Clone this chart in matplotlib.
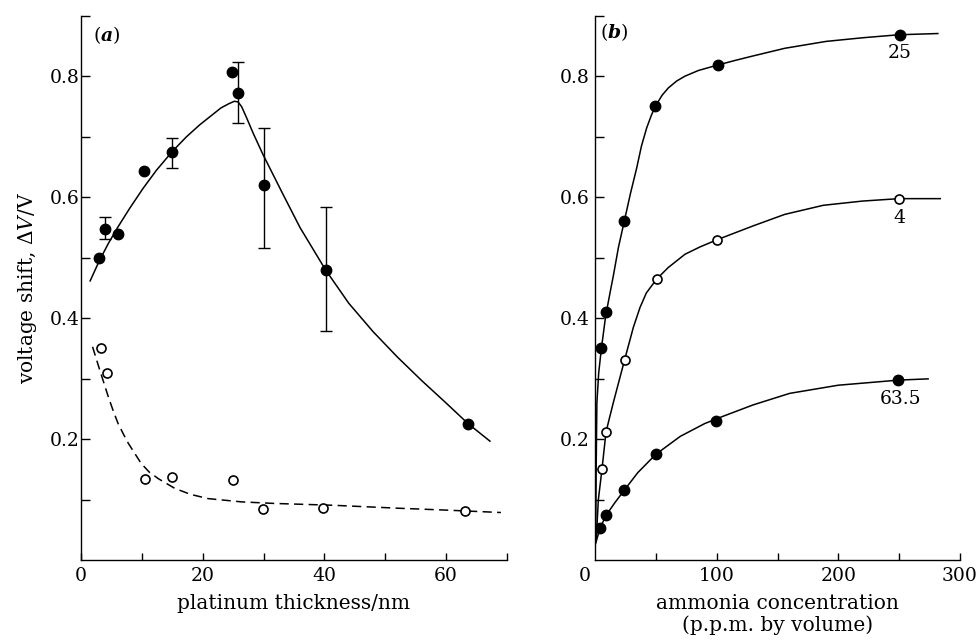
import numpy as np
import matplotlib
matplotlib.use("Agg")
import matplotlib.pyplot as plt

plt.rcParams['font.family'] = ['DejaVu Serif']
plt.rcParams['mathtext.fontset'] = 'custom'
plt.rcParams['mathtext.rm'] = 'DejaVu Serif'
plt.rcParams['mathtext.it'] = 'DejaVu Serif:italic'
plt.rcParams['mathtext.bf'] = 'DejaVu Serif:italic:bold'

# ---------------- Panel (a) data ----------------
thick_filled = [3, 4, 6, 10.4, 15, 24.8, 25.85, 30, 40.2, 63.6]
shift_filled = [0.50, 0.548, 0.539, 0.644, 0.675, 0.807, 0.773, 0.620, 0.480, 0.226]

err_x = [4, 15, 25.85, 30, 40.2]
err_y = [0.548, 0.675, 0.773, 0.620, 0.480]
err_lo = [0.531, 0.649, 0.723, 0.517, 0.379]
err_hi = [0.568, 0.699, 0.824, 0.714, 0.585]

thick_open = [3.3, 4.2, 10.5, 14.95, 25, 29.9, 39.7, 63.1]
shift_open = [0.351, 0.310, 0.134, 0.138, 0.132, 0.085, 0.087, 0.081]

fit_a_x = [1.5, 3, 4.5, 6, 8, 10.2, 12.4, 15, 17.3, 19.5, 21.5, 23, 24.3, 25.2, 25.8,
           26.4, 27.2, 28.3, 29.9, 33.2, 36, 40.2, 44, 48, 52, 56, 60, 63.6, 67.2]
fit_a_y = [0.462, 0.495, 0.524, 0.55, 0.582, 0.615, 0.645, 0.676, 0.700, 0.720, 0.736,
           0.748, 0.755, 0.759, 0.758, 0.750, 0.732, 0.706, 0.671, 0.605, 0.55, 0.48,
           0.425, 0.378, 0.336, 0.297, 0.26, 0.226, 0.197]

dash_a_x = [1.9, 3.1, 4.5, 5.3, 6.1, 7.0, 7.8, 9.9, 11.2, 12.7, 15.4, 18, 20.9, 26.4,
            31.8, 41.4, 52.4, 60, 69]
dash_a_y = [0.353, 0.314, 0.27, 0.247, 0.226, 0.208, 0.193, 0.16, 0.146, 0.135, 0.119,
            0.109, 0.102, 0.0966, 0.094, 0.091, 0.086, 0.083, 0.079]

# ---------------- Panel (b) data ----------------
conc_25 = [5, 9, 24, 49.2, 101, 251]
shift_25 = [0.351, 0.410, 0.561, 0.751, 0.819, 0.869]
conc_4 = [5.5, 8.8, 24.2, 50.5, 100.2, 250.3]
shift_4 = [0.1505, 0.212, 0.332, 0.465, 0.530, 0.598]
conc_63 = [4, 9.1, 23.9, 49.7, 99.1, 249.5]
shift_63 = [0.054, 0.075, 0.116, 0.175, 0.231, 0.298]

fit25_x = [0.3, 0.7, 1.3, 2.8, 5, 8, 9.1, 12, 15, 19, 23.9, 29, 34, 38, 42.3, 46,
           49.2, 55, 60.1, 67, 73.8, 85, 101, 115, 130, 156, 190, 220, 250, 282]
fit25_y = [0.03, 0.15, 0.26, 0.31, 0.35, 0.396, 0.41, 0.441, 0.472, 0.517, 0.561, 0.607,
           0.648, 0.685, 0.715, 0.735, 0.75, 0.769, 0.781, 0.7925, 0.8005, 0.810, 0.819,
           0.8265, 0.834, 0.8466, 0.858, 0.864, 0.869, 0.871]
fit4_x = [0.8, 2.5, 5.5, 8.8, 12, 15, 24.2, 31.3, 36.8, 42, 50.5, 60, 73.8, 86, 100.2,
          130, 156, 187.7, 220, 250, 284]
fit4_y = [0.035, 0.10, 0.1505, 0.212, 0.238, 0.262, 0.332, 0.385, 0.418, 0.442, 0.465,
          0.484, 0.506, 0.518, 0.530, 0.553, 0.572, 0.587, 0.594, 0.598, 0.598]
fit63_x = [0.3, 4, 9.1, 16, 23.9, 35, 49.7, 70, 90, 105, 130, 160, 200, 250, 274]
fit63_y = [0.028, 0.054, 0.075, 0.095, 0.116, 0.145, 0.175, 0.205, 0.226, 0.238, 0.257,
           0.276, 0.2895, 0.298, 0.300]

curve_labels = ["25", "4", "63.5"]
label_x = [251, 250, 251]
label_y = [0.839, 0.5665, 0.267]

FS = 13.5
fig = plt.figure(figsize=(9.76, 6.42), dpi=100)
axa = fig.add_axes([81/976, 81.7/642, 426/976, 544.3/642])
axb = fig.add_axes([595.3/976, 81.7/642, 364.4/976, 544.3/642])

for ax in (axa, axb):
    for s in ('top', 'right'):
        ax.spines[s].set_visible(False)
    for s in ('left', 'bottom'):
        ax.spines[s].set_linewidth(1.0)
    ax.set_ylim(0, 0.9)
    ax.set_yticks([0.2, 0.4, 0.6, 0.8])
    ax.set_yticklabels(["0.2", "0.4", "0.6", "0.8"])
    ax.set_yticks([0.1, 0.3, 0.5, 0.7, 0.9], minor=True)
    ax.tick_params(axis='both', which='both', direction='in', labelsize=FS, width=1.0)
    ax.tick_params(axis='y', which='both', length=6.5)
    ax.tick_params(axis='x', which='both', length=5, pad=5)

# Panel (a)
axa.set_xlim(0, 70)
axa.set_xticks([0, 20, 40, 60])
axa.set_xticks([10, 30, 50, 70], minor=True)
axa.tick_params(axis='y', which='both', pad=1)

axa.plot(fit_a_x, fit_a_y, color='black', lw=1.1)
axa.plot(dash_a_x, dash_a_y, color='black', lw=1.1, dashes=(6, 3.5))
yerr = [np.array(err_y) - np.array(err_lo), np.array(err_hi) - np.array(err_y)]
axa.errorbar(err_x, err_y, yerr=yerr, fmt='none', ecolor='black', elinewidth=1.0,
             capsize=4.5, capthick=1.0)
axa.plot(thick_filled, shift_filled, 'o', color='black', ms=7.5)
axa.plot(thick_open, shift_open, 'o', mfc='white', mec='black', ms=6.5, mew=1.2)
axa.set_xlabel("platinum thickness/nm", fontsize=14.5, labelpad=6)
axa.set_ylabel(r"voltage shift, $\Delta\mathit{V}$/V", fontsize=14.5, labelpad=8)
axa.text(0.028, 0.965, r"($\mathbf{a}$)", transform=axa.transAxes, fontsize=FS,
         va='center', ha='left')

# Panel (b)
axb.set_xlim(0, 300)
axb.set_xticks([100, 200, 300])
axb.set_xticks([50, 150, 250], minor=True)
axb.tick_params(axis='y', which='both', pad=4)
axb.annotate("0", xy=(0, 0), xycoords='axes fraction', xytext=(-7.6, -5),
             textcoords='offset points', ha='center', va='top', fontsize=FS)

axb.plot(fit25_x, fit25_y, color='black', lw=1.1)
axb.plot(fit4_x, fit4_y, color='black', lw=1.1)
axb.plot(fit63_x, fit63_y, color='black', lw=1.1)
axb.plot(conc_25, shift_25, 'o', color='black', ms=7.5)
axb.plot(conc_63, shift_63, 'o', color='black', ms=7.5)
axb.plot(conc_4, shift_4, 'o', mfc='white', mec='black', ms=6.5, mew=1.2)
for t, x, y in zip(curve_labels, label_x, label_y):
    axb.text(x, y, t, fontsize=FS, ha='center', va='center')
axb.set_xlabel("ammonia concentration\n(p.p.m. by volume)", fontsize=14.5, labelpad=6,
               linespacing=1.15)
axb.text(0.013, 0.9706, r"($\mathbf{b}$)", transform=axb.transAxes, fontsize=FS,
         va='center', ha='left')

fig.savefig("out.png", dpi=100)
